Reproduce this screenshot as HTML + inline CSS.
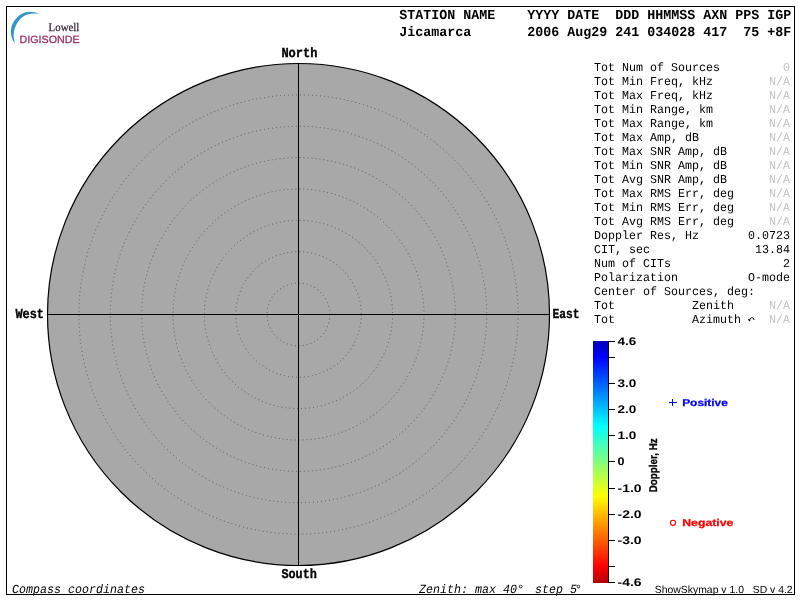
<!DOCTYPE html>
<html><head><meta charset="utf-8"><title>Skymap</title>
<style>
html,body{margin:0;padding:0;background:#fff;}
body{width:800px;height:600px;overflow:hidden;position:relative;}
svg{position:absolute;left:0;top:0;display:block;will-change:transform;}
text{font-family:"Liberation Mono",monospace;fill:#000;text-rendering:geometricPrecision;}
.hdr text{font-weight:bold;font-size:13.7px;}
.pan text{font-size:12px;}
.pan text.g{fill:#c4c4c4;}
.dir text{font-weight:bold;font-size:13.6px;stroke:#000;stroke-width:0.35px;}
.ft text{font-style:italic;font-size:12.4px;}
.cb text{font-family:"Liberation Sans",sans-serif;font-weight:bold;font-size:11px;}
.sans{font-family:"Liberation Sans",sans-serif;}
</style></head><body>
<svg width="800" height="600" viewBox="0 0 800 600">
<defs>
<linearGradient id="jet" x1="0" y1="0" x2="0" y2="1">
<stop offset="0" stop-color="#0000b8"/>
<stop offset="0.066" stop-color="#0000ff"/>
<stop offset="0.351" stop-color="#00ffff"/>
<stop offset="0.640" stop-color="#ffff00"/>
<stop offset="0.93" stop-color="#ff0000"/>
<stop offset="1" stop-color="#b40000"/>
</linearGradient>
</defs>
<rect x="6.5" y="6.5" width="788" height="588" fill="#fff" stroke="#000" stroke-width="1"/>
<!-- logo -->
<g>
<path d="M39.5 13.8 C34.5 11.4 29 11.1 24.7 12.6 C18.8 14.7 14 19.8 11.8 25.8 C10.5 29.8 10.5 33.8 11.6 36.9 C12.3 39.2 13.3 41.2 14.9 43 C13.9 39.4 13.5 36.4 13.7 34.6 C14 30 15 27 16.8 23.8 C19 19.5 22 16.8 25.4 15.2 C29.2 13.5 34 13 39.5 13.8 Z" fill="#3498c6"/>
<text x="48.6" y="30.5" style="font-family:'Liberation Serif',serif;font-size:11.6px;fill:#35242f;stroke:#35242f;stroke-width:0.25px" textLength="30.8" lengthAdjust="spacingAndGlyphs">Lowell</text>
<text x="19.6" y="43" style="font-family:'Liberation Sans',sans-serif;font-size:10.5px;fill:#9e2c66;stroke:#9e2c66;stroke-width:0.28px" textLength="60" lengthAdjust="spacingAndGlyphs">DIGISONDE</text>
</g>
<!-- header -->
<g class="hdr">
<text x="399.30" y="19" textLength="56.00" lengthAdjust="spacingAndGlyphs">STATION</text>
<text x="463.30" y="19" textLength="32.00" lengthAdjust="spacingAndGlyphs">NAME</text>
<text x="527.30" y="19" textLength="32.00" lengthAdjust="spacingAndGlyphs">YYYY</text>
<text x="567.30" y="19" textLength="32.00" lengthAdjust="spacingAndGlyphs">DATE</text>
<text x="615.30" y="19" textLength="24.00" lengthAdjust="spacingAndGlyphs">DDD</text>
<text x="647.30" y="19" textLength="48.00" lengthAdjust="spacingAndGlyphs">HHMMSS</text>
<text x="703.30" y="19" textLength="24.00" lengthAdjust="spacingAndGlyphs">AXN</text>
<text x="735.30" y="19" textLength="24.00" lengthAdjust="spacingAndGlyphs">PPS</text>
<text x="767.30" y="19" textLength="24.00" lengthAdjust="spacingAndGlyphs">IGP</text>
<text x="399.30" y="35.5" textLength="72.00" lengthAdjust="spacingAndGlyphs">Jicamarca</text>
<text x="527.30" y="35.5" textLength="32.00" lengthAdjust="spacingAndGlyphs">2006</text>
<text x="567.30" y="35.5" textLength="40.00" lengthAdjust="spacingAndGlyphs">Aug29</text>
<text x="615.30" y="35.5" textLength="24.00" lengthAdjust="spacingAndGlyphs">241</text>
<text x="647.30" y="35.5" textLength="48.00" lengthAdjust="spacingAndGlyphs">034028</text>
<text x="703.30" y="35.5" textLength="24.00" lengthAdjust="spacingAndGlyphs">417</text>
<text x="743.30" y="35.5" textLength="16.00" lengthAdjust="spacingAndGlyphs">75</text>
<text x="767.30" y="35.5" textLength="24.00" lengthAdjust="spacingAndGlyphs">+8F</text>
</g>
<!-- skymap -->
<circle cx="298.5" cy="314.5" r="251" fill="#a8a8a8" stroke="#000" stroke-width="1.2"/>
<g fill="none" stroke="#5a5a5a" stroke-width="1" stroke-dasharray="1 3">
<circle cx="298.5" cy="314.5" r="31.38"/>
<circle cx="298.5" cy="314.5" r="62.75"/>
<circle cx="298.5" cy="314.5" r="94.12"/>
<circle cx="298.5" cy="314.5" r="125.50"/>
<circle cx="298.5" cy="314.5" r="156.88"/>
<circle cx="298.5" cy="314.5" r="188.25"/>
<circle cx="298.5" cy="314.5" r="219.62"/>
</g>
<line x1="298.5" y1="63" x2="298.5" y2="566" stroke="#000" stroke-width="1"/>
<line x1="47" y1="314.5" x2="550" y2="314.5" stroke="#000" stroke-width="1"/>
<g class="dir">
<text x="281.4" y="57" textLength="36" lengthAdjust="spacingAndGlyphs">North</text>
<text x="281.4" y="578" textLength="35.5" lengthAdjust="spacingAndGlyphs">South</text>
<text x="15.5" y="318" textLength="28.5" lengthAdjust="spacingAndGlyphs">West</text>
<text x="552.5" y="318" textLength="27" lengthAdjust="spacingAndGlyphs">East</text>
</g>
<!-- right panel -->
<g class="pan">
<text x="594.00" y="71" textLength="21.00" lengthAdjust="spacingAndGlyphs">Tot</text>
<text x="622.00" y="71" textLength="21.00" lengthAdjust="spacingAndGlyphs">Num</text>
<text x="650.00" y="71" textLength="14.00" lengthAdjust="spacingAndGlyphs">of</text>
<text x="671.00" y="71" textLength="49.00" lengthAdjust="spacingAndGlyphs">Sources</text>
<text class="g" x="783.00" y="71" textLength="7.00" lengthAdjust="spacingAndGlyphs">0</text>
<text x="594.00" y="85" textLength="21.00" lengthAdjust="spacingAndGlyphs">Tot</text>
<text x="622.00" y="85" textLength="21.00" lengthAdjust="spacingAndGlyphs">Min</text>
<text x="650.00" y="85" textLength="35.00" lengthAdjust="spacingAndGlyphs">Freq,</text>
<text x="692.00" y="85" textLength="21.00" lengthAdjust="spacingAndGlyphs">kHz</text>
<text class="g" x="769.00" y="85" textLength="21.00" lengthAdjust="spacingAndGlyphs">N/A</text>
<text x="594.00" y="99" textLength="21.00" lengthAdjust="spacingAndGlyphs">Tot</text>
<text x="622.00" y="99" textLength="21.00" lengthAdjust="spacingAndGlyphs">Max</text>
<text x="650.00" y="99" textLength="35.00" lengthAdjust="spacingAndGlyphs">Freq,</text>
<text x="692.00" y="99" textLength="21.00" lengthAdjust="spacingAndGlyphs">kHz</text>
<text class="g" x="769.00" y="99" textLength="21.00" lengthAdjust="spacingAndGlyphs">N/A</text>
<text x="594.00" y="113" textLength="21.00" lengthAdjust="spacingAndGlyphs">Tot</text>
<text x="622.00" y="113" textLength="21.00" lengthAdjust="spacingAndGlyphs">Min</text>
<text x="650.00" y="113" textLength="42.00" lengthAdjust="spacingAndGlyphs">Range,</text>
<text x="699.00" y="113" textLength="14.00" lengthAdjust="spacingAndGlyphs">km</text>
<text class="g" x="769.00" y="113" textLength="21.00" lengthAdjust="spacingAndGlyphs">N/A</text>
<text x="594.00" y="127" textLength="21.00" lengthAdjust="spacingAndGlyphs">Tot</text>
<text x="622.00" y="127" textLength="21.00" lengthAdjust="spacingAndGlyphs">Max</text>
<text x="650.00" y="127" textLength="42.00" lengthAdjust="spacingAndGlyphs">Range,</text>
<text x="699.00" y="127" textLength="14.00" lengthAdjust="spacingAndGlyphs">km</text>
<text class="g" x="769.00" y="127" textLength="21.00" lengthAdjust="spacingAndGlyphs">N/A</text>
<text x="594.00" y="141" textLength="21.00" lengthAdjust="spacingAndGlyphs">Tot</text>
<text x="622.00" y="141" textLength="21.00" lengthAdjust="spacingAndGlyphs">Max</text>
<text x="650.00" y="141" textLength="28.00" lengthAdjust="spacingAndGlyphs">Amp,</text>
<text x="685.00" y="141" textLength="14.00" lengthAdjust="spacingAndGlyphs">dB</text>
<text class="g" x="769.00" y="141" textLength="21.00" lengthAdjust="spacingAndGlyphs">N/A</text>
<text x="594.00" y="155" textLength="21.00" lengthAdjust="spacingAndGlyphs">Tot</text>
<text x="622.00" y="155" textLength="21.00" lengthAdjust="spacingAndGlyphs">Max</text>
<text x="650.00" y="155" textLength="21.00" lengthAdjust="spacingAndGlyphs">SNR</text>
<text x="678.00" y="155" textLength="28.00" lengthAdjust="spacingAndGlyphs">Amp,</text>
<text x="713.00" y="155" textLength="14.00" lengthAdjust="spacingAndGlyphs">dB</text>
<text class="g" x="769.00" y="155" textLength="21.00" lengthAdjust="spacingAndGlyphs">N/A</text>
<text x="594.00" y="169" textLength="21.00" lengthAdjust="spacingAndGlyphs">Tot</text>
<text x="622.00" y="169" textLength="21.00" lengthAdjust="spacingAndGlyphs">Min</text>
<text x="650.00" y="169" textLength="21.00" lengthAdjust="spacingAndGlyphs">SNR</text>
<text x="678.00" y="169" textLength="28.00" lengthAdjust="spacingAndGlyphs">Amp,</text>
<text x="713.00" y="169" textLength="14.00" lengthAdjust="spacingAndGlyphs">dB</text>
<text class="g" x="769.00" y="169" textLength="21.00" lengthAdjust="spacingAndGlyphs">N/A</text>
<text x="594.00" y="183" textLength="21.00" lengthAdjust="spacingAndGlyphs">Tot</text>
<text x="622.00" y="183" textLength="21.00" lengthAdjust="spacingAndGlyphs">Avg</text>
<text x="650.00" y="183" textLength="21.00" lengthAdjust="spacingAndGlyphs">SNR</text>
<text x="678.00" y="183" textLength="28.00" lengthAdjust="spacingAndGlyphs">Amp,</text>
<text x="713.00" y="183" textLength="14.00" lengthAdjust="spacingAndGlyphs">dB</text>
<text class="g" x="769.00" y="183" textLength="21.00" lengthAdjust="spacingAndGlyphs">N/A</text>
<text x="594.00" y="197" textLength="21.00" lengthAdjust="spacingAndGlyphs">Tot</text>
<text x="622.00" y="197" textLength="21.00" lengthAdjust="spacingAndGlyphs">Max</text>
<text x="650.00" y="197" textLength="21.00" lengthAdjust="spacingAndGlyphs">RMS</text>
<text x="678.00" y="197" textLength="28.00" lengthAdjust="spacingAndGlyphs">Err,</text>
<text x="713.00" y="197" textLength="21.00" lengthAdjust="spacingAndGlyphs">deg</text>
<text class="g" x="769.00" y="197" textLength="21.00" lengthAdjust="spacingAndGlyphs">N/A</text>
<text x="594.00" y="211" textLength="21.00" lengthAdjust="spacingAndGlyphs">Tot</text>
<text x="622.00" y="211" textLength="21.00" lengthAdjust="spacingAndGlyphs">Min</text>
<text x="650.00" y="211" textLength="21.00" lengthAdjust="spacingAndGlyphs">RMS</text>
<text x="678.00" y="211" textLength="28.00" lengthAdjust="spacingAndGlyphs">Err,</text>
<text x="713.00" y="211" textLength="21.00" lengthAdjust="spacingAndGlyphs">deg</text>
<text class="g" x="769.00" y="211" textLength="21.00" lengthAdjust="spacingAndGlyphs">N/A</text>
<text x="594.00" y="225" textLength="21.00" lengthAdjust="spacingAndGlyphs">Tot</text>
<text x="622.00" y="225" textLength="21.00" lengthAdjust="spacingAndGlyphs">Avg</text>
<text x="650.00" y="225" textLength="21.00" lengthAdjust="spacingAndGlyphs">RMS</text>
<text x="678.00" y="225" textLength="28.00" lengthAdjust="spacingAndGlyphs">Err,</text>
<text x="713.00" y="225" textLength="21.00" lengthAdjust="spacingAndGlyphs">deg</text>
<text class="g" x="769.00" y="225" textLength="21.00" lengthAdjust="spacingAndGlyphs">N/A</text>
<text x="594.00" y="239" textLength="49.00" lengthAdjust="spacingAndGlyphs">Doppler</text>
<text x="650.00" y="239" textLength="28.00" lengthAdjust="spacingAndGlyphs">Res,</text>
<text x="685.00" y="239" textLength="14.00" lengthAdjust="spacingAndGlyphs">Hz</text>
<text x="748.00" y="239" textLength="42.00" lengthAdjust="spacingAndGlyphs">0.0723</text>
<text x="594.00" y="253" textLength="28.00" lengthAdjust="spacingAndGlyphs">CIT,</text>
<text x="629.00" y="253" textLength="21.00" lengthAdjust="spacingAndGlyphs">sec</text>
<text x="755.00" y="253" textLength="35.00" lengthAdjust="spacingAndGlyphs">13.84</text>
<text x="594.00" y="267" textLength="21.00" lengthAdjust="spacingAndGlyphs">Num</text>
<text x="622.00" y="267" textLength="14.00" lengthAdjust="spacingAndGlyphs">of</text>
<text x="643.00" y="267" textLength="28.00" lengthAdjust="spacingAndGlyphs">CITs</text>
<text x="783.00" y="267" textLength="7.00" lengthAdjust="spacingAndGlyphs">2</text>
<text x="594.00" y="281" textLength="84.00" lengthAdjust="spacingAndGlyphs">Polarization</text>
<text x="748.00" y="281" textLength="42.00" lengthAdjust="spacingAndGlyphs">O-mode</text>
<text x="594.00" y="295" textLength="42.00" lengthAdjust="spacingAndGlyphs">Center</text>
<text x="643.00" y="295" textLength="14.00" lengthAdjust="spacingAndGlyphs">of</text>
<text x="664.00" y="295" textLength="56.00" lengthAdjust="spacingAndGlyphs">Sources,</text>
<text x="727.00" y="295" textLength="28.00" lengthAdjust="spacingAndGlyphs">deg:</text>
<text x="594.00" y="309" textLength="21.00" lengthAdjust="spacingAndGlyphs">Tot</text>
<text x="692.00" y="309" textLength="42.00" lengthAdjust="spacingAndGlyphs">Zenith</text>
<text class="g" x="769.00" y="309" textLength="21.00" lengthAdjust="spacingAndGlyphs">N/A</text>
<text x="594.00" y="323" textLength="21.00" lengthAdjust="spacingAndGlyphs">Tot</text>
<text x="692.00" y="323" textLength="49.00" lengthAdjust="spacingAndGlyphs">Azimuth</text>
<text class="g" x="769.00" y="323" textLength="21.00" lengthAdjust="spacingAndGlyphs">N/A</text>
<path d="M753.9 320 C754 318.3 752.9 317.5 751.6 317.7 C750.6 317.9 750 318.6 749.6 319.6" stroke="#000" stroke-width="1" fill="none"/>
<path d="M748 319.1 L751.1 319.7 L749.1 321.4 Z" fill="#000"/>
</g>
<!-- colorbar -->
<rect x="593" y="341" width="15" height="242" fill="url(#jet)"/>
<line x1="608.5" y1="341" x2="608.5" y2="583" stroke="#000" stroke-width="1"/>
<g stroke="#000" stroke-width="1">
<line x1="608" y1="341.5" x2="615" y2="341.5"/>
<line x1="608" y1="357.5" x2="615" y2="357.5"/>
<line x1="608" y1="383.5" x2="615" y2="383.5"/>
<line x1="608" y1="409.5" x2="615" y2="409.5"/>
<line x1="608" y1="435.5" x2="615" y2="435.5"/>
<line x1="608" y1="461.5" x2="615" y2="461.5"/>
<line x1="608" y1="488.5" x2="615" y2="488.5"/>
<line x1="608" y1="514.5" x2="615" y2="514.5"/>
<line x1="608" y1="540.5" x2="615" y2="540.5"/>
<line x1="608" y1="566.5" x2="615" y2="566.5"/>
<line x1="608" y1="582.5" x2="615" y2="582.5"/>
</g>
<g class="cb">
<text x="617.6" y="345.0" textLength="18.8" lengthAdjust="spacingAndGlyphs">4.6</text>
<text x="617.6" y="387.0" textLength="18.8" lengthAdjust="spacingAndGlyphs">3.0</text>
<text x="617.6" y="413.0" textLength="18.8" lengthAdjust="spacingAndGlyphs">2.0</text>
<text x="617.6" y="439.0" textLength="18.8" lengthAdjust="spacingAndGlyphs">1.0</text>
<text x="617.6" y="465.0" textLength="7.0" lengthAdjust="spacingAndGlyphs">0</text>
<text x="617.6" y="492.0" textLength="24.0" lengthAdjust="spacingAndGlyphs">-1.0</text>
<text x="617.6" y="518.0" textLength="24.0" lengthAdjust="spacingAndGlyphs">-2.0</text>
<text x="617.6" y="544.0" textLength="24.0" lengthAdjust="spacingAndGlyphs">-3.0</text>
<text x="617.6" y="585.6" textLength="24.0" lengthAdjust="spacingAndGlyphs">-4.6</text>
<text transform="translate(657.3,492.2) rotate(-90)" style="font-size:11.2px;stroke:#000;stroke-width:0.35px" textLength="53.8" lengthAdjust="spacingAndGlyphs">Doppler, Hz</text>
<text x="682.2" y="406" style="fill:#0000f0;font-size:10px;stroke:#0000f0;stroke-width:0.25px" textLength="45.6" lengthAdjust="spacingAndGlyphs">Positive</text>
<text x="682.2" y="526" style="fill:#f80000;font-size:10px;stroke:#f80000;stroke-width:0.25px" textLength="51.2" lengthAdjust="spacingAndGlyphs">Negative</text>
</g>
<path d="M669 402.5 H677 M672.5 399 V406" stroke="#0000f0" stroke-width="1" fill="none"/>
<circle cx="673" cy="522.8" r="2.55" fill="none" stroke="#f80000" stroke-width="1.1"/>
<!-- footer -->
<g class="ft">
<text x="12.00" y="592.5" textLength="49.00" lengthAdjust="spacingAndGlyphs">Compass</text>
<text x="68.00" y="592.5" textLength="77.00" lengthAdjust="spacingAndGlyphs">coordinates</text>
<text x="419.00" y="592.5" textLength="49.00" lengthAdjust="spacingAndGlyphs">Zenith:</text>
<text x="475.00" y="592.5" textLength="21.00" lengthAdjust="spacingAndGlyphs">max</text>
<text x="503.00" y="592.5" textLength="14.00" lengthAdjust="spacingAndGlyphs">40</text>
<text x="517" y="592.5">°</text>
<text x="535.00" y="592.5" textLength="28.00" lengthAdjust="spacingAndGlyphs">step</text>
<text x="570.00" y="592.5" textLength="7.00" lengthAdjust="spacingAndGlyphs">5</text>
<text x="574.8" y="592.5">°</text>
</g>
<text class="sans" x="654.7" y="592.6" style="font-family:'Liberation Sans',sans-serif;font-size:10.3px" textLength="138" lengthAdjust="spacingAndGlyphs" xml:space="preserve">ShowSkymap v 1.0   SD v 4.2</text>
</svg>
</body></html>
